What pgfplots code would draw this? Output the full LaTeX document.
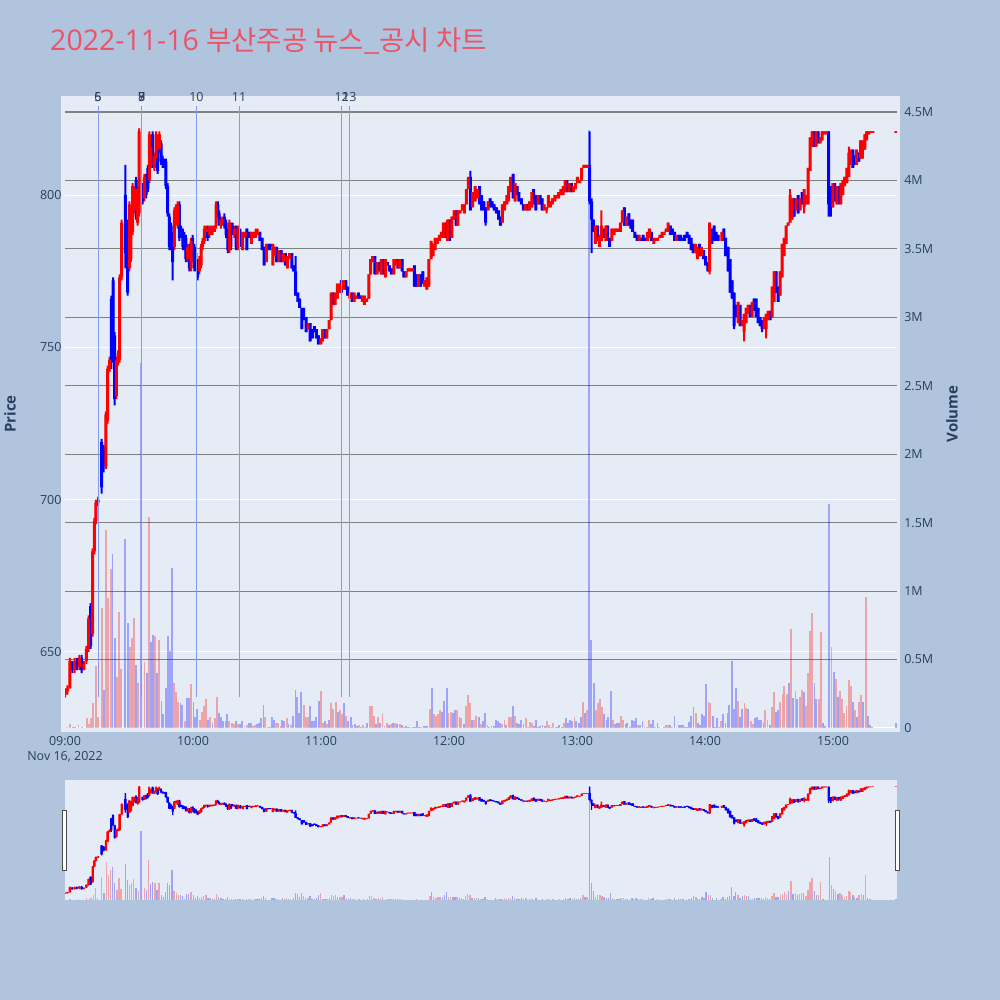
\documentclass[border=0pt]{standalone}
\usepackage{fontspec}
\setmainfont{Open Sans}
\newfontfamily\kr{Noto Sans CJK KR}
\usepackage{pgfplots}
\pgfplotsset{compat=1.18}
\usepackage{pgfplotstable}

\definecolor{pagebg}{HTML}{B0C4DE}
\definecolor{plotbg}{HTML}{E5ECF6}
\definecolor{tickc}{HTML}{2A3F5F}
\definecolor{titlec}{RGB}{235,84,104}
\definecolor{cup}{RGB}{255,0,0}
\definecolor{cdn}{RGB}{0,0,255}
\definecolor{vlinec}{RGB}{130,155,240}
\definecolor{grid2}{RGB}{128,128,128}

% one row per candle: minutes after 09:00, open, high, low, close
\pgfplotstableread{
t o h l c
0.0 636 638 635 637
1.1 637 639 636 638
2.3 638 648 638 647
3.4 647 647 643 644
4.5 644 648 643 647
5.6 647 648 644 645
6.7 645 649 644 648
7.8 648 649 643 644
8.9 644 647 644 646
10.0 647 652 646 651
11.1 651 662 650 661
12.0 665 666 651 652
13.0 656 684 655 683
13.8 683 694 682 693
14.5 693 700 692 699
15.5 699 701 698 700
17.2 719 720 702 704
18.1 717 718 709 711
19.2 711 729 710 728
20.0 726 744 725 743
20.9 743 747 742 746
21.7 766 767 743 745
22.5 772 773 753 755
23.3 754 755 731 733
24.1 734 747 733 746
24.9 745 749 744 748
25.6 746 774 745 773
26.6 773 792 772 791
28.3 800 810 776 781
29.4 790 792 767 768
30.2 776 798 775 797
30.9 779 796 778 795
31.7 788 804 787 803
32.5 795 803 794 802
33.3 805 806 792 793
34.1 791 803 790 802
34.8 794 822 793 821
36.4 803 804 797 798
37.2 799 807 798 806
38.0 806 807 799 800
38.8 809 810 801 802
39.5 805 821 804 820
40.3 810 817 809 816
41.1 820 821 809 810
41.9 809 814 808 813
42.7 812 821 811 820
43.4 817 818 807 808
44.2 815 821 814 820
45.0 817 818 810 811
45.8 812 813 809 810
46.6 811 812 809 810
47.3 811 812 802 803
48.1 803 804 793 794
48.9 793 794 782 783
49.7 790 791 782 783
50.5 787 788 772 778
51.3 783 796 782 795
52.0 794 797 793 796
52.8 790 798 789 797
53.6 797 798 785 786
54.4 789 790 786 787
55.2 788 789 782 783
55.9 787 788 782 783
56.7 786 787 778 779
57.5 779 784 778 783
58.3 783 784 775 776
59.1 776 786 775 785
59.8 786 787 778 779
60.6 783 784 775 776
61.4 781 782 775 776
62.2 778 779 772 773
63.0 775 780 774 779
63.8 777 784 776 783
64.5 783 786 782 785
65.3 785 790 784 789
66.1 788 790 787 789
66.9 789 790 785 786
67.7 787 790 786 789
68.4 788 790 787 789
69.2 788 790 787 789
70.0 788 790 788 790
70.8 790 798 789 797
71.6 797 798 793 794
72.3 794 795 790 791
73.1 790 793 789 792
73.9 791 793 790 792
74.7 793 794 789 790
75.5 791 792 786 787
76.3 788 789 781 782
77.0 782 792 781 791
77.8 790 791 782 783
78.6 790 791 787 788
79.4 787 790 786 789
80.2 789 790 782 783
81.0 783 790 782 789
82.2 788 789 783 784
83.3 782 788 782 788
84.4 786 788 786 788
85.3 789 789 782 782
86.4 788 788 786 786
87.4 784 788 784 788
88.3 786 788 786 788
89.4 786 789 786 788
90.3 787 789 787 788
91.4 788 788 785 785
92.4 786 786 782 782
93.3 783 783 777 777
94.4 778 784 778 784
95.3 784 784 782 782
96.3 784 784 782 783
97.4 777 784 777 784
98.3 780 783 780 783
99.2 783 783 778 778
100.3 778 782 778 782
101.3 782 782 778 778
102.4 778 781 778 781
103.3 781 781 777 777
104.2 776 780 776 780
105.3 779 781 779 781
106.3 781 781 776 776
107.2 777 777 775 775
108.1 775 780 767 767
109.1 768 768 765 765
110.0 766 766 763 763
111.0 763 763 756 756
111.9 763 763 759 759
113.0 760 760 755 755
114.0 756 758 756 758
114.9 758 758 752 752
116.0 756 756 753 753
116.9 757 757 755 755
117.8 756 756 753 753
118.8 754 754 751 751
119.9 751 753 751 753
120.8 752 756 752 756
121.7 756 756 753 753
122.7 753 756 753 756
123.8 756 759 756 759
124.7 759 768 759 768
125.6 768 768 764 764
126.6 764 768 764 768
127.7 766 771 766 771
128.6 768 771 768 771
129.6 772 772 768 768
130.6 769 772 769 772
131.6 772 772 769 769
132.5 770 770 767 767
133.5 766 768 766 768
134.6 768 768 765 765
135.5 765 768 765 768
136.4 766 767 766 767
137.5 768 768 766 766
138.5 767 767 766 766
139.4 765 767 765 767
140.3 764 767 764 767
141.4 765 766 765 766
142.4 766 774 766 774
143.3 774 779 774 779
144.2 778 780 778 780
145.2 780 780 774 774
146.3 774 778 774 778
147.2 778 778 775 775
148.2 774 779 774 779
149.1 779 779 774 774
150.2 773 779 773 779
151.1 778 778 777 777
152.1 777 777 775 775
153.0 776 776 774 774
154.1 774 779 774 779
155.0 777 779 777 779
156.0 779 779 776 776
156.9 776 779 776 779
158.0 779 779 775 775
158.9 775 775 773 773
159.9 773 775 773 775
160.8 775 776 775 776
161.7 775 776 775 776
162.8 775 776 775 776
163.8 777 777 770 770
164.7 774 774 770 770
165.6 770 774 770 774
166.7 774 774 770 770
167.7 775 775 771 771
168.6 770 772 770 772
169.6 769 773 769 773
170.6 770 779 770 779
171.6 779 785 779 785
172.5 780 784 780 784
173.5 782 786 782 786
174.6 784 786 784 786
175.5 785 787 785 787
176.4 786 788 786 788
177.4 786 791 786 791
178.5 791 791 786 786
179.4 785 792 785 792
180.3 792 792 785 785
181.3 786 793 786 793
182.4 792 795 792 795
183.3 795 795 790 790
184.2 790 795 790 795
185.2 794 795 794 795
186.3 795 797 795 797
187.2 794 797 794 797
188.1 797 802 797 802
189.1 802 806 802 806
190.0 806 808 795 795
191.1 796 801 796 801
192.2 798 803 798 803
193.3 799 802 799 802
194.3 803 803 797 797
195.3 800 800 795 795
196.3 798 798 795 795
197.2 796 796 790 791
198.3 795 798 795 798
199.3 799 799 796 796
200.2 798 798 796 796
201.1 797 797 795 795
202.2 796 796 794 794
203.2 795 795 792 792
204.1 793 793 790 790
205.0 791 797 791 797
206.1 795 798 795 798
207.1 797 800 797 800
208.0 798 803 798 803
208.9 801 806 801 806
210.0 807 807 799 799
211.0 798 804 798 804
211.9 803 803 800 800
212.8 801 801 798 798
213.9 799 799 797 797
214.9 797 797 795 795
215.8 795 797 795 797
216.8 797 797 795 795
217.8 795 798 795 798
218.8 796 801 796 801
219.7 802 802 797 797
220.7 800 800 795 795
221.8 797 800 797 800
222.7 800 800 797 797
223.6 799 799 795 795
224.6 795 797 795 797
225.7 795 796 794 796
226.6 796 800 796 800
227.5 796 798 796 798
228.5 797 799 797 799
229.6 798 800 798 800
230.5 799 800 799 800
231.4 799 801 799 801
232.4 800 802 800 802
233.5 800 803 800 803
234.4 801 805 801 805
235.3 805 805 801 801
236.3 801 804 801 804
237.4 804 804 801 801
238.3 801 803 801 803
239.2 802 804 802 804
240.2 804 806 804 806
241.3 804 805 804 805
242.2 805 809 805 809
243.2 809 810 809 810
244.1 809 810 809 810
245.0 809 810 809 810
245.9 810 821 797 798
246.8 798 799 781 792
247.7 792 792 788 788
248.6 784 790 784 790
249.6 790 790 785 785
250.5 783 787 783 787
251.4 785 795 785 790
252.4 789 789 786 786
253.5 785 790 785 790
254.4 790 790 785 785
255.3 786 786 783 783
256.3 785 789 785 789
257.4 787 789 787 789
258.3 788 789 788 789
259.2 788 789 788 789
260.3 788 791 788 791
261.3 791 795 791 795
262.2 796 796 790 790
263.2 790 793 790 793
264.3 794 794 790 790
265.2 792 792 789 789
266.1 792 792 788 788
267.1 788 788 786 786
268.2 787 787 785 785
269.1 785 787 785 787
270.0 786 786 785 785
271.0 787 787 785 785
272.1 786 786 785 785
273.0 785 788 785 788
273.9 786 789 786 789
274.9 788 788 785 785
276.0 784 786 784 786
276.9 785 786 785 786
277.8 785 786 785 786
278.8 786 787 786 787
279.9 786 788 786 788
280.8 787 788 787 788
281.8 788 789 788 789
282.7 788 791 788 791
283.8 790 790 787 787
284.7 789 789 787 787
285.7 788 788 785 785
286.6 785 787 785 787
287.7 787 787 785 785
288.6 787 787 785 785
289.6 786 786 785 785
290.5 787 787 785 785
291.6 788 788 786 786
292.5 787 787 784 784
293.5 786 786 782 782
294.4 784 784 781 781
295.5 781 784 781 784
296.4 779 783 779 783
297.4 784 784 780 780
298.3 780 783 780 783
299.4 782 782 779 779
300.3 780 780 777 777
301.3 778 778 775 775
302.2 775 791 774 791
303.2 789 789 784 784
304.3 790 790 785 785
305.2 788 788 785 785
306.1 787 787 785 785
307.9 785 788 785 788
308.8 789 789 785 785
309.7 786 786 780 780
310.8 783 783 775 775
311.8 779 779 768 768
312.7 772 772 766 766
313.7 768 768 756 757
314.6 764 764 760 760
315.5 758 765 758 765
316.5 764 764 757 757
317.4 757 759 757 759
318.3 755 761 752 761
319.3 758 763 758 763
320.2 761 764 761 764
321.2 764 764 760 760
322.1 760 765 760 765
323.0 766 766 762 762
324.0 766 766 760 760
324.9 763 763 758 758
325.8 760 760 757 757
326.8 759 759 755 756
327.7 756 760 756 760
328.7 756 761 753 761
329.6 759 762 759 762
330.5 762 762 759 759
331.5 760 770 760 770
332.4 765 775 765 775
333.3 775 775 768 768
334.3 770 770 765 765
335.2 767 775 767 775
336.2 773 784 773 784
337.1 780 786 780 786
338.0 784 790 784 790
339.0 790 791 790 791
339.9 791 802 791 800
340.8 792 799 792 799
341.8 799 799 793 793
342.7 795 799 795 799
343.7 800 800 794 794
344.6 795 799 795 799
345.5 801 801 797 797
346.5 796 802 794 802
347.4 797 800 797 800
348.3 797 809 797 809
349.3 808 819 808 819
350.2 816 821 816 821
351.2 821 821 816 816
352.1 816 821 816 821
353.0 821 821 817 817
354.0 817 819 817 819
354.9 818 821 818 821
355.8 820 821 820 821
356.8 820 821 820 821
358.0 821 821 793 797
359.0 803 803 793 796
359.9 796 804 796 804
360.8 804 804 798 798
361.8 797 803 797 803
362.7 803 803 797 799
363.7 797 804 797 804
364.6 800 805 800 805
365.5 803 806 803 806
366.5 804 809 804 809
367.4 806 816 806 814
368.3 810 815 810 815
369.3 815 815 809 809
370.2 813 813 810 810
371.1 810 815 810 815
372.1 814 814 811 811
373.0 812 818 812 818
374.0 816 818 812 818
374.9 815 820 815 820
375.8 818 821 818 821
376.8 820 821 820 821
377.7 820.5 821 820.5 821
378.7 820.5 821 820.5 821
389.5 820.5 821 820.5 821
}\candles

% volume in millions, d=1 rising candle, d=0 falling candle
\pgfplotstableread{
t v d
0.8 0.01 1
2.4 0.03 1
3.6 0.006 0
4.7 0.01 0
6.3 0.02 1
7.8 0.006 0
10.2 0.07 1
11.4 0.03 1
12.2 0.07 1
13.3 0.18 1
14.4 0.45 1
15.3 0.08 1
17.2 0.875 1
18.3 0.28 0
19.4 1.45 1
20.3 0.95 1
21.4 1.16 1
22.3 1.27 0
23.3 0.66 0
24.4 0.37 1
25.3 0.85 1
26.3 0.43 1
28.3 1.38 0
29.4 0.77 0
30.3 0.59 1
31.3 0.66 1
32.2 0.80 1
33.3 0.46 0
34.4 0.33 1
35.6 2.67 0
37.3 0.48 1
38.3 0.40 0
39.2 1.54 1
40.2 0.63 0
41.1 0.68 0
42.2 0.67 1
43.1 0.40 0
44.1 0.64 1
45.2 0.20 0
46.1 0.10 0
47.2 0.29 0
48.1 0.67 0
49.1 0.56 0
50.2 1.17 0
51.1 0.33 1
52.2 0.26 1
53.1 0.19 1
54.1 0.18 0
55.0 0.17 0
56.1 0.05 1
57.0 0.22 0
58.0 0.22 0
59.1 0.32 1
60.2 0.19 0
61.1 0.08 0
62.0 0.14 0
63.1 0.06 1
64.1 0.12 1
65.0 0.16 1
66.1 0.21 1
67.0 0.06 0
68.0 0.08 1
69.1 0.04 0
70.2 0.07 1
71.1 0.23 1
72.0 0.11 0
73.1 0.08 0
74.1 0.05 0
75.2 0.05 0
76.1 0.10 0
77.0 0.05 1
78.1 0.04 1
79.1 0.03 1
80.0 0.05 0
81.1 0.03 1
82.0 0.03 0
83.1 0.05 0
84.1 0.015 1
85.2 0.02 1
86.1 0.04 0
87.0 0.04 0
88.1 0.015 1
89.1 0.02 1
90.0 0.03 0
91.0 0.035 0
92.0 0.07 0
93.0 0.17 0
93.9 0.08 1
95.0 0.01 1
96.0 0.01 0
97.0 0.08 0
98.0 0.06 0
98.9 0.04 1
100.0 0.04 1
101.0 0.015 1
101.9 0.06 0
102.8 0.05 0
103.9 0.07 1
104.8 0.03 0
105.8 0.02 1
107.0 0.09 0
108.0 0.28 0
108.9 0.23 0
109.8 0.11 0
110.8 0.26 0
111.9 0.17 1
112.8 0.08 1
113.9 0.08 1
114.8 0.16 0
115.8 0.05 0
116.9 0.05 0
117.8 0.08 0
118.9 0.20 0
119.9 0.27 1
121.0 0.04 1
121.9 0.05 0
122.8 0.03 1
123.9 0.06 0
124.8 0.18 1
125.8 0.14 1
126.9 0.19 1
127.8 0.12 0
128.9 0.13 1
129.8 0.10 1
130.8 0.18 0
131.9 0.09 1
132.8 0.05 0
133.9 0.08 0
134.8 0.02 0
135.8 0.03 0
136.9 0.015 0
137.8 0.02 1
138.8 0.01 0
139.8 0.02 1
140.8 0.01 1
141.7 0.04 0
142.8 0.16 1
143.8 0.16 1
144.9 0.09 1
145.8 0.03 0
146.9 0.08 1
147.8 0.04 0
148.8 0.11 1
149.8 0.015 1
150.8 0.04 1
151.9 0.02 0
152.8 0.03 1
153.9 0.035 0
154.8 0.035 1
155.8 0.03 0
156.9 0.03 1
157.8 0.02 0
158.9 0.01 1
159.8 0.015 0
160.9 0.01 0
161.9 0.01 1
163.0 0.005 0
163.9 0.005 0
164.9 0.05 0
166.0 0.01 0
166.9 0.005 1
168.0 0.015 0
168.9 0.015 0
169.8 0.015 0
171.0 0.14 1
171.9 0.29 0
172.8 0.10 1
173.9 0.09 1
174.8 0.10 1
175.8 0.13 1
176.9 0.12 0
177.8 0.20 0
178.9 0.29 0
179.8 0.11 1
180.8 0.12 1
181.9 0.11 0
182.8 0.13 0
183.8 0.13 1
184.9 0.08 0
185.8 0.07 1
186.9 0.03 0
187.8 0.16 1
188.8 0.24 1
189.8 0.18 1
190.8 0.06 0
191.9 0.06 1
192.8 0.09 1
193.9 0.08 0
195.0 0.03 1
196.0 0.05 0
196.9 0.11 0
198.0 0.02 1
198.9 0.01 0
199.9 0.015 0
201.0 0.015 0
201.9 0.06 0
202.8 0.05 0
203.9 0.04 0
204.9 0.03 1
206.0 0.06 1
206.9 0.025 0
208.0 0.08 1
208.9 0.08 1
209.9 0.16 0
210.8 0.09 1
211.9 0.04 0
212.8 0.03 0
213.9 0.06 0
214.9 0.03 0
216.0 0.07 1
216.9 0.01 1
217.8 0.045 1
218.9 0.035 1
219.9 0.015 0
220.8 0.06 0
221.9 0.01 0
222.8 0.015 0
223.8 0.02 0
224.9 0.015 0
225.8 0.05 1
226.9 0.02 1
227.8 0.005 1
228.8 0.035 1
229.9 0.01 0
230.8 0.005 0
231.7 0.025 0
232.8 0.01 0
233.8 0.04 1
234.7 0.07 0
235.8 0.04 0
236.7 0.06 0
237.8 0.05 0
238.8 0.08 1
239.7 0.05 0
240.8 0.04 0
241.7 0.08 0
242.8 0.19 1
243.8 0.11 0
244.7 0.13 1
245.8 4.37 0
246.7 0.64 0
247.8 0.33 0
248.8 0.13 1
249.7 0.18 1
250.8 0.21 1
251.8 0.15 1
252.7 0.10 0
253.8 0.06 0
254.7 0.08 0
255.8 0.27 0
256.7 0.06 1
257.7 0.03 0
258.8 0.04 0
259.7 0.04 0
260.7 0.09 1
261.7 0.06 1
262.7 0.03 0
263.6 0.035 0
264.7 0.005 0
265.7 0.06 0
266.6 0.05 0
267.7 0.07 0
268.6 0.02 1
269.7 0.02 0
270.7 0.05 0
271.6 0.005 0
272.7 0.005 1
273.6 0.06 1
274.7 0.03 0
275.7 0.06 0
276.7 0.01 1
277.7 0.035 0
278.6 0.005 1
279.7 0.003 1
280.7 0.005 0
281.6 0.02 1
282.7 0.025 1
283.6 0.025 0
284.7 0.005 1
285.7 0.09 0
286.6 0.01 1
287.7 0.025 0
288.6 0.02 0
289.6 0.025 0
290.7 0.005 0
291.6 0.005 0
292.5 0.045 0
293.6 0.09 0
294.6 0.15 0
295.7 0.11 1
296.6 0.04 0
297.5 0.02 0
298.6 0.10 0
299.6 0.09 0
300.5 0.32 0
301.6 0.19 1
302.5 0.18 1
303.6 0.09 0
304.6 0.01 0
305.5 0.07 0
306.6 0.01 1
307.5 0.05 1
308.5 0.10 0
309.6 0.035 0
310.5 0.11 0
311.4 0.17 0
312.5 0.49 0
313.5 0.14 0
314.4 0.29 0
315.5 0.20 1
316.4 0.08 0
317.5 0.14 0
318.5 0.18 1
319.4 0.145 1
320.3 0.14 0
321.4 0.05 1
322.4 0.03 1
323.3 0.07 0
324.4 0.08 0
325.3 0.06 0
326.4 0.06 0
327.4 0.035 0
328.3 0.13 1
329.3 0.06 1
330.3 0.02 0
331.4 0.15 1
332.4 0.26 1
333.3 0.12 0
334.3 0.13 0
335.3 0.19 1
336.3 0.25 1
337.2 0.31 1
338.3 0.25 1
339.2 0.33 0
340.3 0.72 1
341.3 0.22 0
342.4 0.27 1
343.3 0.21 0
344.4 0.23 1
345.3 0.28 1
346.3 0.26 0
347.4 0.16 1
348.3 0.40 1
349.2 0.71 1
350.2 0.84 1
351.3 0.33 0
352.2 0.21 0
353.3 0.21 1
354.2 0.70 1
355.3 0.04 0
356.3 0.015 0
358.3 1.64 0
359.3 0.59 1
360.3 0.41 0
361.3 0.36 1
362.4 0.23 0
363.3 0.27 1
364.3 0.21 1
365.3 0.11 1
366.3 0.16 1
367.4 0.35 1
368.3 0.31 1
369.3 0.19 0
370.2 0.13 1
371.3 0.08 0
372.2 0.19 1
373.3 0.24 1
374.2 0.19 0
375.3 0.96 1
376.3 0.09 0
377.4 0.02 0
378.3 0.01 0
389.6 0.04 0
}\vol

\newcommand\tf{\fontsize{12.5}{15}\selectfont}

\pgfplotsset{
  frame/.style={scale only axis, width=832pt, xmin=0, xmax=390,
    axis line style={draw=none}, tick style={draw=none}, major tick length=0pt},
  mainbox/.style={frame, height=632pt, at={(65pt,272pt)}, anchor=south west},
  slidebox/.style={frame, height=120pt, at={(65pt,100pt)}, anchor=south west},
  bare/.style={xtick=\empty, ytick=\empty},
  pricey/.style={ymin=625, ymax=832.6},
  voly/.style={ymin=0, ymax=4.617},
  vl/.style={forget plot, mark=none, draw=vlinec, line width=1pt},
}

% stacked bars: an invisible base up to the lower end, then a red or a blue piece
\newcommand\wickplots{%
  \addplot[draw=none, fill=none] table[x=t, y=l] {\candles};
  \addplot[draw=none, fill=cup] table[x=t,
    y expr={(\thisrow{c}>=\thisrow{o}) ? (\thisrow{h}-\thisrow{l}) : 0}] {\candles};
  \addplot[draw=none, fill=cdn] table[x=t,
    y expr={(\thisrow{c}<\thisrow{o}) ? (\thisrow{h}-\thisrow{l}) : 0}] {\candles};
}
\newcommand\bodyplots{%
  \addplot[draw=none, fill=none] table[x=t, y expr={min(\thisrow{o},\thisrow{c})}] {\candles};
  \addplot[draw=none, fill=cup] table[x=t,
    y expr={(\thisrow{c}>=\thisrow{o}) ? (\thisrow{c}-\thisrow{o}) : 0}] {\candles};
  \addplot[draw=none, fill=cdn] table[x=t,
    y expr={(\thisrow{c}<\thisrow{o}) ? (\thisrow{o}-\thisrow{c}) : 0}] {\candles};
}
\newcommand\volplots[1]{%
  \addplot[ycomb, forget plot, mark=none, draw=cup, draw opacity=0.3, line width=#1,
    restrict expr to domain={\thisrow{d}}{0.5:1.5}] table[x=t, y=v] {\vol};
  \addplot[ycomb, forget plot, mark=none, draw=cdn, draw opacity=0.3, line width=#1,
    restrict expr to domain={\thisrow{d}}{-0.5:0.5}] table[x=t, y=v] {\vol};
}

\begin{document}
\begin{tikzpicture}
\fill[pagebg] (0pt,0pt) rectangle (1000pt,1000pt);
\fill[plotbg] (61pt,268pt) rectangle (900pt,904pt);
\fill[plotbg] (65pt,100pt) rectangle (897pt,220pt);

\node[anchor=base west, inner sep=0pt, text=titlec] at (50pt,949.3pt)
  {\fontsize{28.5}{30}\selectfont 2022-11-16 {\kr\fontsize{27.5}{30}\selectfont 부산주공 뉴스\_공시 차트}};
\node[rotate=90, text=tickc, font=\fontsize{15}{18}\selectfont\bfseries] at (10pt,586pt) {Price};
\node[rotate=90, text=tickc, font=\fontsize{15}{18}\selectfont\bfseries] at (952pt,586pt) {Volume};

% price grid and labels
\begin{axis}[mainbox, pricey,
  ytick={650,700,750,800}, yticklabels={650,700,750,800},
  ymajorgrids, major grid style={white, line width=1pt},
  xtick={0,60,120,180,240,300,360},
  xticklabels={{09:00\\Nov 16, 2022},10:00,11:00,12:00,13:00,14:00,15:00},
  xticklabel style={align=center, font=\tf, text=tickc, yshift=-4.5pt},
  yticklabel style={font=\tf, text=tickc}]
\end{axis}

% volume grid and labels
\begin{axis}[mainbox, voly, axis y line*=right, xtick=\empty,
  ytick={0.5,1,1.5,2,2.5,3,3.5,4,4.5},
  yticklabels={0.5M,1M,1.5M,2M,2.5M,3M,3.5M,4M,4.5M},
  extra y ticks={0}, extra y tick labels={0},
  extra y tick style={grid=major, major grid style={white, line width=1pt}},
  ymajorgrids, major grid style={grid2, line width=1.2pt},
  yticklabel style={font=\tf, text=tickc, anchor=west, xshift=3.8pt}]
\end{axis}

% candles: wicks, then bodies
\begin{axis}[mainbox, pricey, bare, ybar stacked, bar width=2pt]
\wickplots
\end{axis}
\begin{axis}[mainbox, pricey, bare, ybar stacked, bar width=3pt]
\bodyplots
\end{axis}

% volume bars, news lines
\begin{axis}[mainbox, voly, bare, clip mode=individual]
\volplots{1.8pt}
\addplot[vl] coordinates {(15.5,0.227) (15.5,4.547)};
\addplot[vl] coordinates {(35.9,0.227) (35.9,4.547)};
\addplot[vl] coordinates {(61.6,0.227) (61.6,4.547)};
\addplot[vl] coordinates {(81.6,0.227) (81.6,4.547)};
\addplot[vl] coordinates {(129.7,0.227) (129.7,4.547)};
\addplot[vl] coordinates {(133.3,0.227) (133.3,4.547)};
\foreach \tt/\lab in {15.5/5, 15.5/6, 35.9/7, 35.9/8, 35.9/9, 61.6/10, 81.6/11, 129.7/12, 133.3/13}{
  \edef\temp{\noexpand\node[font=\noexpand\tf, text=tickc, inner sep=0pt] at (axis cs:\tt,4.612) {\lab};}
  \temp
}
\end{axis}

% range slider
\begin{axis}[slidebox, pricey, bare, ybar stacked, bar width=1.4pt]
\wickplots
\end{axis}
\begin{axis}[slidebox, pricey, bare, ybar stacked, bar width=2.4pt]
\bodyplots
\end{axis}
\begin{axis}[slidebox, voly, bare]
\volplots{1.4pt}
\end{axis}
\filldraw[fill=white, draw=black!70, line width=0.8pt] (62.3pt,130pt) rectangle (66.3pt,190pt);
\filldraw[fill=white, draw=black!70, line width=0.8pt] (895.3pt,130pt) rectangle (899.3pt,190pt);

\pgfresetboundingbox
\path[use as bounding box] (0pt,0pt) rectangle (1000pt,1000pt);
\end{tikzpicture}
\end{document}
